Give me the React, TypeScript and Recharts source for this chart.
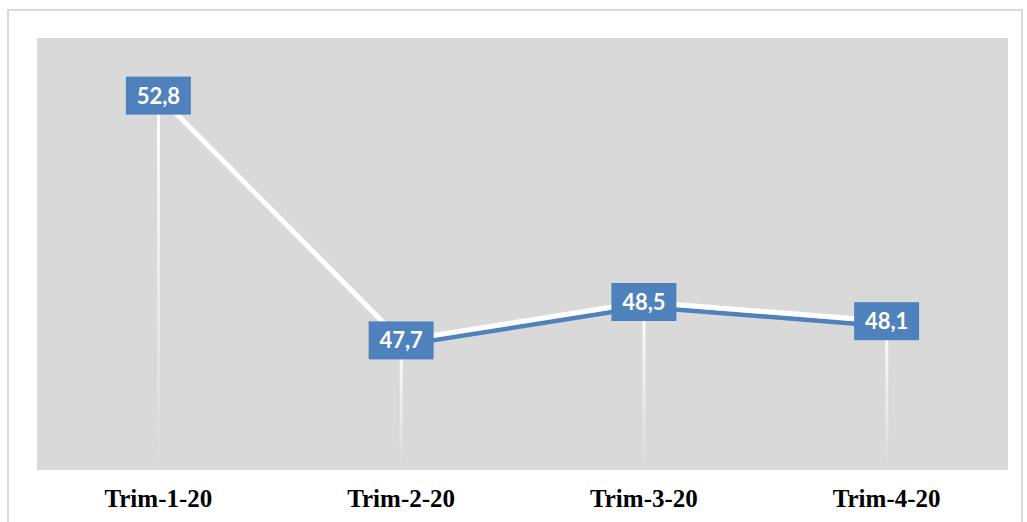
import React from "react";
import {
  ComposedChart,
  Line,
  Bar,
  XAxis,
  YAxis,
  CartesianGrid,
  LabelList,
} from "recharts";

const periods = ["Trim-1-20", "Trim-2-20", "Trim-3-20", "Trim-4-20"];
const values = [52.8, 47.7, 48.5, 48.1];
// the blue under-stroke starts at the second point
const blueValues = [null, 47.7, 48.5, 48.1];

const data = periods.map((p, i) => ({
  period: p,
  value: values[i],
  blue: blueValues[i],
}));

const fmt = (v: number) => v.toFixed(1).replace(".", ",");

const ValueBox = (props: any) => {
  const { x, y, value } = props;
  if (value == null) return null;
  const w = 65;
  const h = 38;
  return (
    <g>
      <rect x={x - w / 2} y={y - h / 2} width={w} height={h} fill="#4f81bd" />
      <text
        x={x}
        y={y + 8}
        textAnchor="middle"
        fill="#ffffff"
        fontFamily="Lato, 'Open Sans', sans-serif"
        fontWeight={700}
        fontSize={22}
      >
        {fmt(value)}
      </text>
    </g>
  );
};

const PeriodTick = (props: any) => {
  const { x, y, payload } = props;
  return (
    <text
      x={x}
      y={y + 37}
      textAnchor="middle"
      fill="#000000"
      fontFamily="'Liberation Serif', 'Times New Roman', serif"
      fontWeight={700}
      fontSize={25}
    >
      {payload.value}
    </text>
  );
};

export default function App() {
  return (
    <div
      style={{
        position: "absolute",
        left: 0,
        top: 0,
        width: 1027,
        height: 522,
        background: "#ffffff",
        overflow: "hidden",
      }}
    >
      <style>{`.blue-under path.recharts-curve { transform: translateY(5px); }`}</style>
      <div
        style={{
          position: "absolute",
          left: 7,
          top: 9,
          width: 1016,
          height: 530,
          border: "2px solid #d9d9d9",
          boxSizing: "border-box",
        }}
      />
      <div style={{ position: "absolute", left: 0, top: 0 }}>
        <ComposedChart
          width={1027}
          height={522}
          data={data}
          margin={{ top: 38, right: 19, bottom: 12, left: 37 }}
        >
          <defs>
            <linearGradient id="drop" x1="0" y1="0" x2="0" y2="1">
              <stop offset="0%" stopColor="#ffffff" stopOpacity={1} />
              <stop offset="100%" stopColor="#ffffff" stopOpacity={0} />
            </linearGradient>
          </defs>
          <CartesianGrid fill="#d9d9d9" horizontal={false} vertical={false} />
          <XAxis
            dataKey="period"
            axisLine={false}
            tickLine={false}
            tickSize={0}
            tickMargin={0}
            height={40}
            tick={<PeriodTick />}
            interval={0}
          />
          <YAxis hide domain={[45, 54]} />
          <Bar
            dataKey="value"
            barSize={3}
            fill="url(#drop)"
            isAnimationActive={false}
          />
          <Line
            className="blue-under"
            dataKey="blue"
            type="linear"
            stroke="#4f81bd"
            strokeWidth={4.5}
            dot={false}
            activeDot={false}
            connectNulls={false}
            isAnimationActive={false}
          />
          <Line
            dataKey="value"
            type="linear"
            stroke="#ffffff"
            strokeWidth={5}
            dot={false}
            activeDot={false}
            isAnimationActive={false}
          >
            <LabelList dataKey="value" content={<ValueBox />} />
          </Line>
        </ComposedChart>
      </div>
    </div>
  );
}
